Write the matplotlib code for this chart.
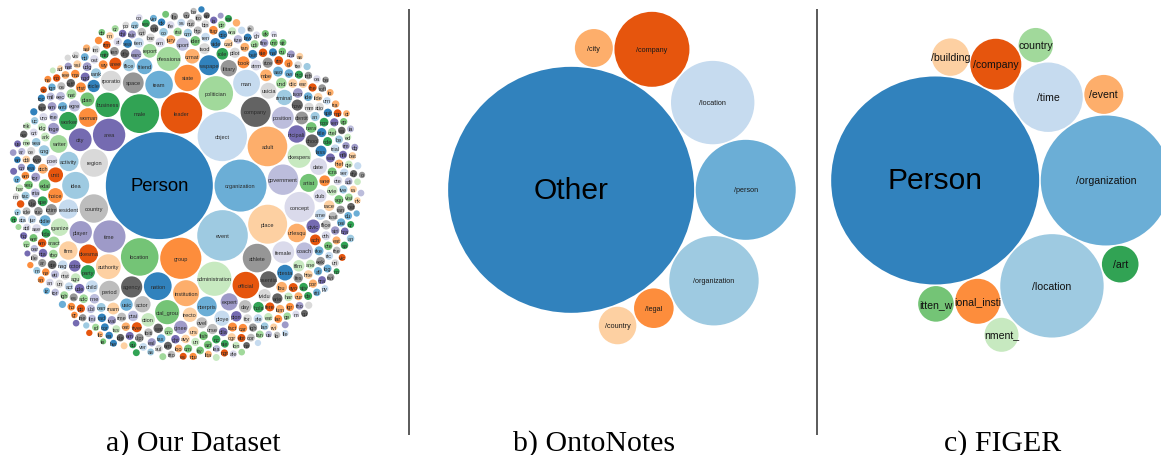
import math
import matplotlib
matplotlib.use("Agg")
import matplotlib.pyplot as plt
from matplotlib.patches import Circle
from matplotlib.textpath import TextToPath
from matplotlib.font_manager import FontProperties

# ---------------------------------------------------------------- data
PALETTE = ["#3182bd", "#6baed6", "#9ecae1", "#c6dbef", "#e6550d", "#fd8d3c", "#fdae6b", "#fdd0a2",
           "#31a354", "#74c476", "#a1d99b", "#c7e9c0", "#756bb1", "#9e9ac8", "#bcbddc", "#dadaeb",
           "#636363", "#969696", "#bdbdbd", "#d9d9d9"]

# b) OntoNotes : type -> bubble value (area units)
onto_types = ["Other", "/person", "/organization", "/location", "/company", "/legal", "/city", "/country"]
onto_values = [15129, 2500, 1998, 1739, 1406, 392, 361, 353]

# c) FIGER
figer_types = ["Person", "/organization", "/location", "/time", "/company", "/educational_institution",
               "/event", "/building", "/art", "/written_work", "/country", "/government_agency"]
figer_values = [10816, 4225, 2673, 1204, 650, 506, 380, 350, 335, 317, 296, 289]

# a) Our Dataset : labelled large / medium types
our_types = ["Person", "organization", "event", "object", "leader", "group", "adult", "place", "male",
             "location", "politician", "administration", "area", "time", "government", "concept",
             "company", "athlete", "country", "region", "nation", "team", "idea", "man", "official",
             "state", "institution", "authority", "business", "social_group", "professional",
             "spokesperson", "city", "player", "position", "female", "agency", "space", "period",
             "corporation", "newspaper", "enterprise", "activity", "resident", "spokesman", "woman",
             "burlesque", "firm", "worker", "artist", "writer", "organizer", "municipality", "expert",
             "coach", "date", "essential", "military", "actor", "musician", "contestant", "friend",
             "criminal", "employee", "unit", "choice", "format", "director", "party", "plan", "report",
             "action", "civic", "engineer", "sport", "club", "school", "identity", "day", "individual",
             "article", "music", "office", "child"]
our_values = [2862, 676, 640, 610, 428, 424, 392, 380, 376, 353, 296, 292, 262, 259, 231, 228, 225,
              204, 202, 193, 192, 190, 182, 180, 177, 174, 169, 154, 149, 146, 144, 139, 130, 125, 121,
              119, 112, 108, 106, 104, 100, 98, 94, 92, 90, 88, 86, 85, 83, 81, 79, 77, 76, 74, 72, 71,
              69, 67, 66, 64, 62, 61, 59, 58, 56, 55, 53, 52, 50, 49, 48, 46, 45, 44, 42, 42, 41, 41,
              40, 40, 38, 38, 37, 37]

# a) the long tail of rare types (small bubbles)
tail_types = """career role character member singer poet novel book song album film movie show series
episode season game match race tournament league championship award prize medal title rank degree
course class student teacher professor scholar scientist researcher doctor nurse patient victim suspect
prisoner soldier officer general commander captain pilot driver rider runner swimmer manager owner
founder chairman president minister senator governor mayor judge lawyer attorney witness juror jury
court trial case law rule policy project program system network service product brand model device
machine vehicle car truck bus train plane ship boat vessel aircraft weapon gun bomb missile tank army
navy force troop division department ministry bureau council committee board panel commission union
faction movement campaign protest strike war battle conflict attack incident accident disaster crisis
storm flood fire earthquake disease illness injury death birth marriage wedding divorce family parent
son daughter mother father brother sister wife husband partner colleague rival enemy ally neighbor
citizen native immigrant refugee tourist visitor guest host audience crowd fan supporter follower chief
head boss staff laborer farmer fisherman miner builder architect designer painter sculptor photographer
composer conductor dancer performer comedian journalist reporter editor author publisher magazine
journal website blog channel station radio television broadcast studio label industry market economy
trade bank fund stock share price cost tax budget debt loan money currency dollar euro salary income
profit revenue sale deal contract agreement treaty alliance pact accord summit meeting conference
session debate speech statement document letter message email note record data information evidence
fact figure number amount rate percentage quantity volume size length distance height weight age year
month week hour minute era century decade moment occasion ceremony festival celebration holiday
anniversary birthday concert exhibition fair parade museum library church temple mosque hospital
clinic hotel restaurant bar store shop mall airport port harbor bridge road street highway tunnel
river lake sea ocean island mountain valley forest desert park garden farm village town county
province district capital border territory colony kingdom empire republic dynasty regime cabinet
parliament congress senate assembly embassy consulate police guard detective spy agent broker dealer
trader investor banker economist analyst critic sponsor donor volunteer activist rebel militant gang
mob thief killer""".split()

tail_values = [int(v) for v in """
36 34 33 35 32 31 30 36 29 28 33 27 31 26 30 25 29 24 28 35 23 27 22 26 34 21 25 32 24 30
23 29 22 28 21 27 33 26 25 31 24 23 30 22 28 21 27 26 25 24 23 22 21 29 28 27 26 25 24 23
20 19 20 18 19 17 20 16 18 19 15 17 20 14 16 18 19 13 15 17 20 12 14 16 18 19 11 13 15 17
18 15 20 13 17 16 19 12 14 18 20 11 16 15 19 17 13 18 14 20 16 12 19 15 17 18 13 20 14 16
17 19 14 12 18 20 15 16 13 19 11 17 18 14 20 15 12 16 19 13 18 17 14 20 15 16 11 19 13 18
16 20 13 18 15 17 19 14 12 16 18 20 13 15 17 11 19 14 16 18 12 20 15 13 17 19 14 16 18 15
19 14 17 20 12 16 18 13 15 19 17 14 20 16 11 18 15 13 19 17 16 12 20 14 18 15 17 13 19 16
15 18 12 16 20 14 17 19 13 16 18 15 11 20 17 14 19 16 12 18 15 13 17 20 16 14 19 18 12 15
14 17 19 15 13 18 16 20 12 17 14 19 16 15 18 11 13 20 17 16 14 18 15 19 12 17 16 13 20 14
13 16 18 14 20 15 12 17 19 16 13 18 14 11 15 20 17 16 18 13 19 14 15 17 12 16 20 18 14 15
12 15 17 13 19 14 16 18 11 15 17 20 13 16 14 19 15 12 18 17 16 14 13 20 15 18 11 17 16 13
11 13 10 12 14 9 13 11 12 10 14 13 9 12 11 10 13 14 12 9 11 13 10 12 14 11 9 13 12 10
12 10 13 11 9 14 12 10 11 13 9 12 14 10 11 13 12 9 10 14 11 12 13 9 10 12 11 14 13 10
""".split()]

captions = ["a) Our Dataset", "b) OntoNotes", "c) FIGER"]


# ---------------------------------------------------------------- circle packing (d3-hierarchy packSiblings)
class _Node:
    __slots__ = ("c", "next", "prev")

    def __init__(self, c):
        self.c = c
        self.next = None
        self.prev = None


def _place(b, a, c):
    dx = b[0] - a[0]
    dy = b[1] - a[1]
    d2 = dx * dx + dy * dy
    if d2:
        a2 = (a[2] + c[2]) ** 2
        b2 = (b[2] + c[2]) ** 2
        if a2 > b2:
            x = (d2 + b2 - a2) / (2 * d2)
            y = math.sqrt(max(0.0, b2 / d2 - x * x))
            c[0] = b[0] - x * dx - y * dy
            c[1] = b[1] - x * dy + y * dx
        else:
            x = (d2 + a2 - b2) / (2 * d2)
            y = math.sqrt(max(0.0, a2 / d2 - x * x))
            c[0] = a[0] + x * dx - y * dy
            c[1] = a[1] + x * dy + y * dx
    else:
        c[0] = a[0] + c[2]
        c[1] = a[1]


def _intersects(a, b):
    dr = a[2] + b[2] - 1e-6
    dx = b[0] - a[0]
    dy = b[1] - a[1]
    return dr > 0 and dr * dr > dx * dx + dy * dy


def _score(node):
    a = node.c
    b = node.next.c
    ab = a[2] + b[2]
    dx = (a[0] * b[2] + b[0] * a[2]) / ab
    dy = (a[1] * b[2] + b[1] * a[2]) / ab
    return dx * dx + dy * dy


def pack_siblings(radii):
    circles = [[0.0, 0.0, float(r)] for r in radii]
    n = len(circles)
    a = circles[0]
    if n == 1:
        return circles
    b = circles[1]
    a[0] = -b[2]
    b[0] = a[2]
    if n == 2:
        return circles
    c = circles[2]
    _place(b, a, c)
    a, b, c = _Node(a), _Node(b), _Node(c)
    a.next = c.prev = b
    b.next = a.prev = c
    c.next = b.prev = a
    i = 3
    while i < n:
        cc = circles[i]
        _place(a.c, b.c, cc)
        c = _Node(cc)
        j, k = b.next, a.prev
        sj, sk = b.c[2], a.c[2]
        retry = False
        while True:
            if sj <= sk:
                if _intersects(j.c, c.c):
                    b = j
                    a.next = b
                    b.prev = a
                    retry = True
                    break
                sj += j.c[2]
                j = j.next
            else:
                if _intersects(k.c, c.c):
                    a = k
                    a.next = b
                    b.prev = a
                    retry = True
                    break
                sk += k.c[2]
                k = k.prev
            if j is k.next:
                break
        if retry:
            continue
        c.prev = a
        c.next = b
        a.next = c
        b.prev = c
        b = c
        aa = _score(a)
        c = c.next
        while c is not b:
            ca = _score(c)
            if ca < aa:
                a, aa = c, ca
            c = c.next
        b = a.next
        i += 1
    return circles


def enclose_center(circles):
    cx = sum(c[0] for c in circles) / len(circles)
    cy = sum(c[1] for c in circles) / len(circles)
    for t in range(1, 4000):
        best, bd = None, -1
        for c in circles:
            d = math.hypot(c[0] - cx, c[1] - cy) + c[2]
            if d > bd:
                bd, best = d, c
        dx, dy = best[0] - cx, best[1] - cy
        dd = math.hypot(dx, dy) or 1.0
        fx = best[0] + dx / dd * best[2]
        fy = best[1] + dy / dd * best[2]
        cx += (fx - cx) / (t + 1)
        cy += (fy - cy) / (t + 1)
    return cx, cy


# ---------------------------------------------------------------- label clipping to the bubble
LABEL_FONT = ["Liberation Sans", "DejaVu Sans"]
_t2p = TextToPath()


def clipped_label(s, r, font_px):
    """Central part of the label that is visible inside a circle of radius r (px)."""
    fp = FontProperties(family="Liberation Sans", size=font_px)

    def width(t):
        if not t:
            return 0.0
        return _t2p.get_text_width_height_descent(t, fp, ismath=False)[0]

    half_h = 0.36 * font_px
    avail = 2 * math.sqrt(max(r * r - half_h * half_h, 0.0)) + 0.35 * font_px
    if width(s) <= avail:
        return s
    n = len(s)
    for m in range(n - 1, 0, -1):
        st = (n - m + 1) // 2
        sub = s[st:st + m]
        if width(sub) <= avail:
            return sub
    return ""


# ---------------------------------------------------------------- drawing
W, H = 1161, 456
fig = plt.figure(figsize=(W / 100, H / 100), dpi=100)
ax = fig.add_axes([0, 0, 1, 1])
ax.set_xlim(0, W)
ax.set_ylim(H, 0)
ax.axis("off")


def bubble_panel(names, values, center, pad, label_px, big_px, label_color):
    order = sorted(range(len(values)), key=lambda i: -values[i])
    radii = [math.sqrt(values[i]) for i in order]
    circles = pack_siblings([r + pad for r in radii])
    ex, ey = enclose_center(circles)
    for rank, (idx, c) in enumerate(zip(order, circles)):
        x = center[0] + c[0] - ex
        y = center[1] + c[1] - ey
        r = c[2] - pad
        ax.add_patch(Circle((x, y), r, facecolor=PALETTE[rank % 20], edgecolor="none", zorder=2))
        px = big_px if rank == 0 else label_px
        label = clipped_label(names[idx], r, px)
        if label:
            ax.text(x, y, label, ha="center", va="center", fontsize=px * 0.72,
                    family=LABEL_FONT, color="#000000" if rank == 0 else label_color, zorder=3)


a_names = our_types + [tail_types[i] if i < len(tail_types) else "" for i in range(len(tail_values))]
a_values = our_values + tail_values

bubble_panel(a_names, a_values, (187, 187), 0.85, 5.7, 18.5, "#2b2b2b")
bubble_panel(onto_types, onto_values, (624, 186), 0.8, 7.3, 30, "#1a1a1a")
bubble_panel(figer_types, figer_values, (1001, 183), 0.8, 10.5, 30, "#111111")

# separators
for xs in (408.5, 816.5):
    ax.plot([xs, xs], [10, 436], color="#4d4d4d", lw=1.3, solid_capstyle="butt", zorder=1)

for cap, xc in zip(captions, (193, 594, 1003)):
    ax.text(xc, 451, cap, ha="center", va="baseline", fontsize=21.5, family="Liberation Serif", color="black")

fig.savefig("out.png", dpi=100)
